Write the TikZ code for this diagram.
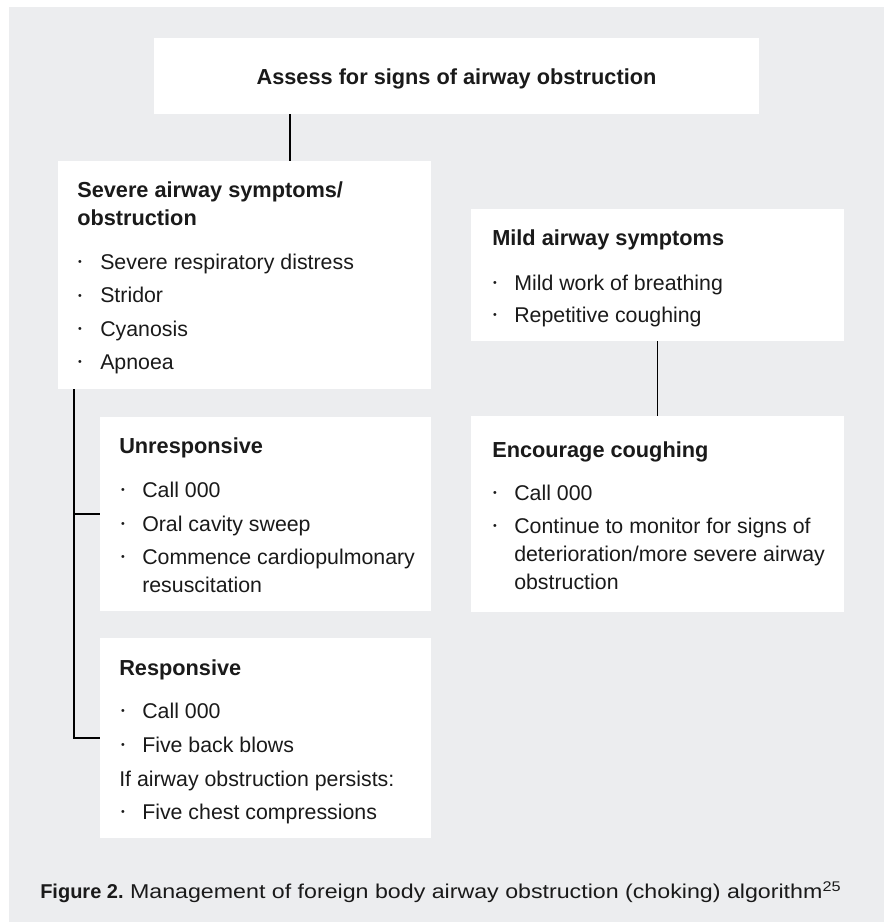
\documentclass[tikz,border=0pt]{standalone}
\usepackage{fontspec}
\setmainfont{Liberation Sans}
\usetikzlibrary{fit}
\definecolor{bggray}{HTML}{ECEDEF}
\definecolor{ink}{HTML}{1A1A1A}
\newcommand\bfs{\fontsize{16.3}{19}\selectfont\bfseries}
\newcommand\rfs{\fontsize{16}{19}\selectfont}
\newcommand\dotb{\raisebox{0.15em}{\scalebox{0.5}{\textbullet}}}
\tikzset{
  box/.style={fill=white, draw=none, inner sep=0pt},
  ttl/.style={anchor=base west, inner sep=0pt, font=\bfs, text=ink},
  txt/.style={anchor=base west, inner sep=0pt, font=\rfs, text=ink},
  bul/.style={anchor=base, inner sep=0pt, font=\rfs, text=ink},
  conn/.style={line width=1pt, draw=black},
}
\begin{document}
\begin{tikzpicture}[x=0.75pt, y=-0.75pt]
\useasboundingbox (0,0) rectangle (884,922);
\fill[bggray] (9,7) rectangle (884,922);

% boxes
\node[box, fit={(154,38)(759,114)}] (top) {};
\node[box, fit={(58,161)(431,389)}] (sev) {};
\node[box, fit={(471,209)(844,341)}] (mild) {};
\node[box, fit={(471,416)(844,612)}] (enc) {};
\node[box, fit={(100,417)(431,611)}] (unr) {};
\node[box, fit={(100,638)(431,838)}] (resp) {};

% top
\node[ttl, anchor=base] (topt) at (456.5,84.5) {Assess for signs of airway obstruction};

% severe
\node[ttl] (sevt1) at (77,197) {Severe airway symptoms/};
\node[ttl] (sevt2) at (77,225.5) {obstruction};
\node[bul] (sevb1) at (80,269) {\dotb};
\node[txt] (sevi1) at (100,269) {Severe respiratory distress};
\node[bul] (sevb2) at (80,302.5) {\dotb};
\node[txt] (sevi2) at (100,302.5) {Stridor};
\node[bul] (sevb3) at (80,336) {\dotb};
\node[txt] (sevi3) at (100,336) {Cyanosis};
\node[bul] (sevb4) at (80,369) {\dotb};
\node[txt] (sevi4) at (100,369) {Apnoea};

% mild
\node[ttl] (mildt) at (492,245) {Mild airway symptoms};
\node[bul] (mildb1) at (495,290) {\dotb};
\node[txt] (mildi1) at (514,290) {Mild work of breathing};
\node[bul] (mildb2) at (495,322) {\dotb};
\node[txt] (mildi2) at (514,322) {Repetitive coughing};

% encourage
\node[ttl] (enct) at (492,457) {Encourage coughing};
\node[bul] (encb1) at (495,500) {\dotb};
\node[txt] (enci1) at (514,500) {Call 000};
\node[bul] (encb2) at (495,533) {\dotb};
\node[txt] (enci2) at (514,533) {Continue to monitor for signs of};
\node[txt] (enci3) at (514,561.5) {deterioration/more severe airway};
\node[txt] (enci4) at (514,589) {obstruction};

% unresponsive
\node[ttl] (unrt) at (119,453) {Unresponsive};
\node[bul] (unrb1) at (123,497) {\dotb};
\node[txt] (unri1) at (142,497) {Call 000};
\node[bul] (unrb2) at (123,531) {\dotb};
\node[txt] (unri2) at (142,531) {Oral cavity sweep};
\node[bul] (unrb3) at (123,564) {\dotb};
\node[txt] (unri3) at (142,564) {Commence cardiopulmonary};
\node[txt] (unri4) at (142,592) {resuscitation};

% responsive
\node[ttl] (respt) at (119,675) {Responsive};
\node[bul] (respb1) at (123,718) {\dotb};
\node[txt] (respi1) at (142,718) {Call 000};
\node[bul] (respb2) at (123,752) {\dotb};
\node[txt] (respi2) at (142,752) {Five back blows};
\node[txt] (respi3) at (119,786) {If airway obstruction persists:};
\node[bul] (respb4) at (123,819) {\dotb};
\node[txt] (respi4) at (142,819) {Five chest compressions};

% connectors
\coordinate (cx1) at (290,0);
\coordinate (cx2) at (74,0);
\draw[conn] (top.south -| cx1) -- (sev.north -| cx1);
\draw[conn] (mild.south) -- (enc.north);
\draw[conn] (sev.south -| cx2) |- (resp.west);
\draw[conn] (cx2 |- unr.west) -- (unr.west);

% caption
\node[anchor=base west, inner sep=0pt, text=ink] (cap) at (40,898.5)
  {\fontsize{15}{18}\selectfont\textbf{Figure 2.}\scalebox{1.16}[1]{ Management of foreign body airway obstruction (choking) algorithm\textsuperscript{25}}};
\end{tikzpicture}
\end{document}
